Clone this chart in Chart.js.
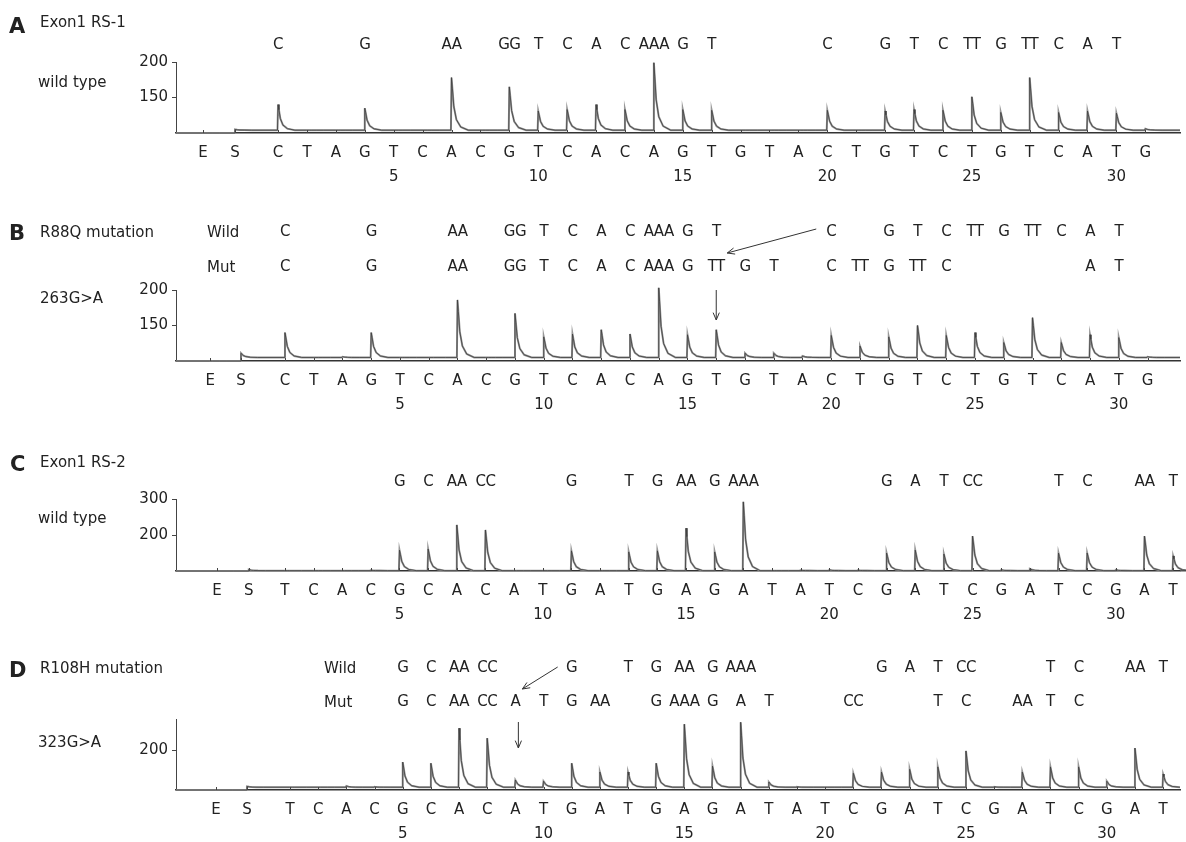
<!DOCTYPE html>
<html>
<head>
<meta charset="utf-8">
<script src="https://cdn.jsdelivr.net/npm/chart.js@4.4.1/dist/chart.umd.min.js"></script>
<style>
  body { margin: 0; background: #fff; width: 1186px; height: 842px; overflow: hidden;
         font-family: "DejaVu Sans", sans-serif; color: #222; }
  .panel { position: absolute; left: 0; width: 1186px; }
  .lbl { position: absolute; font-size: 15px; line-height: 1; white-space: nowrap; transform: translateY(-50%); }
  .big { font-size: 21px; font-weight: bold; }
</style>
</head>
<body>
<div class="panel" style="top:0;height:200px"><canvas id="chartA"></canvas></div>
<div class="panel" style="top:200px;height:225px"><canvas id="chartB"></canvas></div>
<div class="panel" style="top:425px;height:215px"><canvas id="chartC"></canvas></div>
<div class="panel" style="top:640px;height:202px"><canvas id="chartD"></canvas></div>

<div class="lbl big" style="left:9px;top:26px">A</div>
<div class="lbl" style="left:40px;top:22px">Exon1 RS-1</div>
<div class="lbl" style="left:38px;top:82px">wild type</div>

<div class="lbl big" style="left:9px;top:233px">B</div>
<div class="lbl" style="left:40px;top:232px">R88Q mutation</div>
<div class="lbl" style="left:207px;top:232px">Wild</div>
<div class="lbl" style="left:207px;top:267px">Mut</div>
<div class="lbl" style="left:40px;top:298px">263G&gt;A</div>

<div class="lbl big" style="left:10px;top:464px">C</div>
<div class="lbl" style="left:40px;top:462px">Exon1 RS-2</div>
<div class="lbl" style="left:38px;top:518px">wild type</div>

<div class="lbl big" style="left:9px;top:670px">D</div>
<div class="lbl" style="left:40px;top:668px">R108H mutation</div>
<div class="lbl" style="left:324px;top:668px">Wild</div>
<div class="lbl" style="left:324px;top:702px">Mut</div>
<div class="lbl" style="left:38px;top:742px">323G&gt;A</div>

<script>
// dispensation order, base calls and peak heights
const dispA = ['C','T','A','G','T','C','A','C','G','T','C','A','C','A','G','T','G','T','A','C','T','G','T','C','T','G','T','C','A','T','G'];
const callsA = ['C','','','G','','','AA','','GG','T','C','A','C','AAA','G','T','','','','C','','G','T','C','TT','G','TT','C','A','T',''];
const peaksA = [140,104,104,135,104,104,178,104,165,131,133,140,133,199,133,132,104,104,104,132,104,131,133,132,151,129,178,129,131,128,106];
const esA = [100, 105];
const baseA = 104;

const dispB = ['C','T','A','G','T','C','A','C','G','T','C','A','C','A','G','T','G','T','A','C','T','G','T','C','T','G','T','C','A','T','G'];
const wildB = ['C','','','G','','','AA','','GG','T','C','A','C','AAA','G','T','','','','C','','G','T','C','TT','G','TT','C','A','T',''];
const mutB = ['C','','','G','','','AA','','GG','T','C','A','C','AAA','G','TT','G','T','','C','TT','G','TT','C','','','','','A','T',''];
const peaksB = [140,105,106,140,105,105,186,105,167,134,138,144,138,203,137,144,111,111,107,136,121,134,150,136,140,126,161,126,137,133,106];
const esB = [100, 111];
const baseB = 105;

const dispC = ['T','C','A','C','G','C','A','C','A','T','G','A','T','G','A','G','A','T','A','T','C','G','A','T','C','G','A','T','C','G','A','T'];
const callsC = ['','','','','G','C','AA','CC','','','G','','T','G','AA','G','AAA','','','','','G','A','T','CC','','','T','C','','AA','T'];
const peaksC = [101,101,101,102,158,161,228,214,101,101,156,101,153,156,219,153,292,101,102,103,102,150,158,147,197,103,106,150,150,103,197,142];
const esC = [100, 104];
const baseC = 101;

const dispD = ['T','C','A','C','G','C','A','C','A','T','G','A','T','G','A','G','A','T','A','T','C','G','A','T','C','G','A','T','C','G','A','T'];
const wildD = ['','','','','G','C','AA','CC','','','G','','T','G','AA','G','AAA','','','','','G','A','T','CC','','','T','C','','AA','T'];
const mutD = ['','','','','G','C','AA','CC','A','T','G','AA','','G','AAA','G','A','T','','','CC','','','T','C','','AA','T','C','','',''];
const peaksD = [107,107,110,108,170,167,255,230,125,122,167,145,145,167,265,160,270,120,108,107,142,145,152,158,198,108,145,158,158,122,205,140];
const esD = [100, 109];
const baseD = 107;

const numTicks = [5, 10, 15, 20, 25, 30];
const yTicksA = [150, 200];
const yTicksB = [150, 200];
const yTicksC = [200, 300];
const yTicksD = [200];

const FONT = '"DejaVu Sans", sans-serif';
const INK = '#222';

// pyrogram peak: sharp rise, decaying tail
function trace(p) {
  const pts = [{ x: p.xMin, y: 100 }];
  const pos = [p.ePos, p.sPos].concat(p.disp.map((_, i) => i + 1));
  const hts = p.es.concat(p.peaks);
  pos.forEach((x, k) => {
    const b0 = k < 2 ? 100 : p.base;
    const b = k < 1 ? 100 : p.base;
    const a = hts[k] - b;
    pts.push({ x: x - 0.02, y: b0 }, { x: x, y: hts[k] },
      { x: x + 0.03, y: b + a * 0.8 }, { x: x + 0.08, y: b + a * 0.45 },
      { x: x + 0.17, y: b + a * 0.2 }, { x: x + 0.32, y: b + a * 0.06 },
      { x: x + 0.58, y: b });
  });
  pts.push({ x: p.xMax, y: p.base });
  return pts;
}

function drawArrow(ctx, x1, y1, x2, y2) {
  const a = Math.atan2(y2 - y1, x2 - x1), L = 8;
  ctx.beginPath();
  ctx.moveTo(x1, y1); ctx.lineTo(x2, y2);
  ctx.moveTo(x2 - L * Math.cos(a - 0.4), y2 - L * Math.sin(a - 0.4));
  ctx.lineTo(x2, y2);
  ctx.lineTo(x2 - L * Math.cos(a + 0.4), y2 - L * Math.sin(a + 0.4));
  ctx.stroke();
}

function makeChart(p) {
  const ticksX = [p.ePos, p.sPos].concat(p.disp.map((_, i) => i + 1));
  const labelsX = ['E', 'S'].concat(p.disp.map((d, i) => numTicks.includes(i + 1) ? [d, String(i + 1)] : d));

  const callsPlugin = {
    id: 'calls',
    afterDraw(chart) {
      const ctx = chart.ctx, sx = chart.scales.x, bottom = chart.chartArea.bottom;
      ctx.save();
      // small tick marks pointing up from the baseline
      ctx.strokeStyle = '#444';
      ctx.lineWidth = 1;
      ctx.beginPath();
      ticksX.forEach(v => {
        const px = Math.round(sx.getPixelForValue(v)) + 0.5;
        ctx.moveTo(px, bottom); ctx.lineTo(px, bottom - 3);
      });
      ctx.stroke();

      ctx.font = '15px ' + FONT;
      ctx.fillStyle = INK;
      ctx.textAlign = 'center';
      ctx.textBaseline = 'middle';
      ctx.letterSpacing = '-0.5px';
      p.rows.forEach(r => r.calls.forEach((t, i) => {
        if (t) ctx.fillText(t, sx.getPixelForValue(i + 1), r.y);
      }));
      ctx.strokeStyle = '#333';
      (p.arrows || []).forEach(a => drawArrow(ctx,
        sx.getPixelForValue(a.from[0]) + a.from[1], a.from[2],
        sx.getPixelForValue(a.to[0]) + a.to[1], a.to[2]));
      ctx.restore();
    }
  };

  const pts = trace(p);
  return new Chart(document.getElementById(p.id), {
    type: 'line',
    data: {
      datasets: [
        // first dataset is painted last, so the dark core goes first
        { data: pts, borderColor: '#3c3c3c', borderWidth: 0.8, pointRadius: 0, tension: 0, clip: false },
        { data: pts, borderColor: '#989898', borderWidth: 2, pointRadius: 0, tension: 0, clip: false }
      ]
    },
    options: {
      responsive: true,
      maintainAspectRatio: false,
      animation: false,
      layout: { padding: { top: p.top, right: 6, left: 0, bottom: 0 } },
      plugins: { legend: { display: false }, tooltip: { enabled: false } },
      scales: {
        x: {
          type: 'linear',
          min: p.xMin,
          max: p.xMax,
          afterBuildTicks: s => { s.ticks = ticksX.map(v => ({ value: v })); },
          afterFit: s => { s.height = p.h - p.bottom; },
          ticks: {
            autoSkip: false, maxRotation: 0, padding: 8, color: INK,
            font: { family: FONT, size: 15, lineHeight: 1.6 },
            callback: (v, i) => labelsX[i]
          },
          grid: { drawOnChartArea: false, drawTicks: false },
          border: { color: '#333', width: 1.5 }
        },
        y: {
          min: p.yMin,
          max: p.yMax,
          afterBuildTicks: s => { s.ticks = p.yTicks.map(v => ({ value: v })); },
          afterFit: s => { s.width = 176; },
          ticks: { padding: 4, color: INK, font: { family: FONT, size: 15 } },
          grid: { drawOnChartArea: false, tickLength: 4, color: '#444' },
          border: { color: '#444', width: 1 }
        }
      }
    },
    plugins: [callsPlugin]
  });
}

makeChart({
  id: 'chartA', h: 200, top: 62, bottom: 133,
  xMin: -2.53, xMax: 32.2, ePos: -1.6, sPos: -0.49,
  yMin: 100, yMax: 200, yTicks: yTicksA,
  disp: dispA, peaks: peaksA, es: esA, base: baseA,
  rows: [{ y: 45, calls: callsA }]
});

makeChart({
  id: 'chartB', h: 225, top: 90, bottom: 161,
  xMin: -2.79, xMax: 32.13, ePos: -1.6, sPos: -0.53,
  yMin: 100, yMax: 200, yTicks: yTicksB,
  disp: dispB, peaks: peaksB, es: esB, base: baseB,
  rows: [{ y: 32, calls: wildB }, { y: 67, calls: mutB }],
  arrows: [
    { from: [20, -15, 29], to: [16, 11, 53] },
    { from: [16, 0, 90], to: [16, 0, 120] }
  ]
});

makeChart({
  id: 'chartC', h: 215, top: 74, bottom: 146,
  xMin: -2.8, xMax: 32.24, ePos: -1.37, sPos: -0.26,
  yMin: 100, yMax: 300, yTicks: yTicksC,
  disp: dispC, peaks: peaksC, es: esC, base: baseC,
  rows: [{ y: 57, calls: callsC }]
});

makeChart({
  id: 'chartD', h: 202, top: 79, bottom: 150,
  xMin: -3.05, xMax: 32.6, ePos: -1.63, sPos: -0.53,
  yMin: 100, yMax: 278, yTicks: yTicksD,
  disp: dispD, peaks: peaksD, es: esD, base: baseD,
  rows: [{ y: 28, calls: wildD }, { y: 62, calls: mutD }],
  arrows: [
    { from: [11, -14, 27], to: [9, 7, 49] },
    { from: [9, 3, 82], to: [9, 3, 108] }
  ]
});
</script>
</body>
</html>
